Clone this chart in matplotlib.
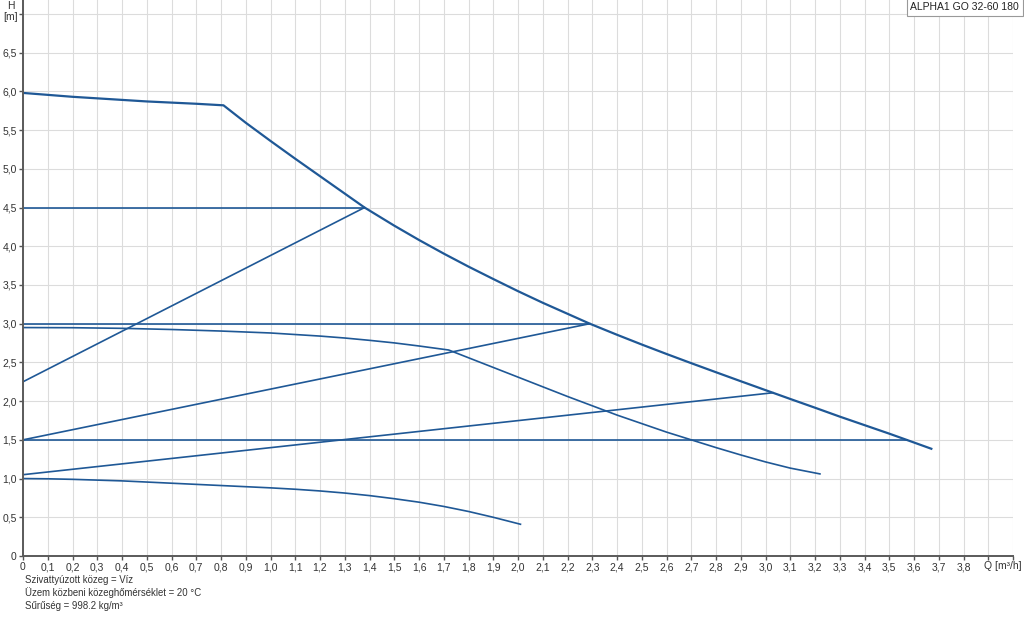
import numpy as np
import matplotlib
matplotlib.use("Agg")
from matplotlib import pyplot as plt

plt.rcParams['font.family'] = ['Liberation Sans', 'DejaVu Sans']

LINE_COLOR = '#1f5896'

# max speed curve (kink at 0.81)
max_q = [0, 0.1, 0.2, 0.3, 0.4, 0.5, 0.6, 0.7, 0.81, 0.9, 1.0, 1.1, 1.2, 1.3, 1.38,
         1.5, 1.6, 1.7, 1.8, 1.9, 2.0, 2.1, 2.2, 2.29, 2.4, 2.5, 2.6, 2.7, 2.8, 2.9,
         3.0, 3.03, 3.1, 3.2, 3.3, 3.4, 3.5, 3.57, 3.67]
max_h = [5.98, 5.955, 5.93, 5.91, 5.89, 5.87, 5.855, 5.84, 5.82, 5.595, 5.36, 5.13, 4.905, 4.68, 4.50,
         4.266, 4.081, 3.905, 3.737, 3.577, 3.42, 3.27, 3.128, 3.00, 2.857, 2.731, 2.609, 2.49, 2.373, 2.257,
         2.142, 2.108, 2.028, 1.915, 1.80, 1.69, 1.58, 1.50, 1.385]

# constant pressure lines
cp_q = [[0, 1.38], [0, 2.29], [0, 3.57]]
cp_h = [[4.5, 4.5], [3.0, 3.0], [1.5, 1.5]]

# proportional pressure lines
pp_q = [[0, 1.38], [0, 2.29], [0, 3.03]]
pp_h = [[2.25, 4.5], [1.5, 3.0], [1.05, 2.108]]

# middle fixed speed curve
mid_q = [0, 0.2, 0.4, 0.6, 0.8, 1.0, 1.1, 1.2, 1.3, 1.4, 1.5, 1.6, 1.72,
         1.8, 1.9, 2.0, 2.1, 2.2, 2.3, 2.4, 2.5, 2.6, 2.7, 2.8, 2.9, 3.0, 3.1, 3.22]
mid_h = [2.95, 2.948, 2.94, 2.925, 2.905, 2.88, 2.86, 2.84, 2.815, 2.785, 2.752, 2.712, 2.66,
         2.56, 2.435, 2.31, 2.185, 2.06, 1.94, 1.82, 1.71, 1.60, 1.50, 1.40, 1.305, 1.215, 1.135, 1.06]

# low fixed speed curve
low_q = [0, 0.1, 0.2, 0.3, 0.4, 0.5, 0.6, 0.7, 0.8, 0.9, 1.0,
         1.1, 1.2, 1.3, 1.4, 1.5, 1.6, 1.7, 1.8, 1.9, 2.01]
low_h = [1.0, 0.997, 0.99, 0.98, 0.97, 0.955, 0.94, 0.925, 0.91, 0.895, 0.88,
         0.862, 0.84, 0.813, 0.78, 0.74, 0.695, 0.64, 0.575, 0.50, 0.41]

x_ticks = np.round(np.arange(0, 4.01, 0.1), 1)
y_ticks = np.round(np.arange(0, 7.01, 0.5), 1)

info_lines = ["Szivattyúzott közeg = Víz",
              "Üzem közbeni közeghőmérséklet = 20 °C",
              "Sűrűség = 998.2 kg/m³"]

fig = plt.figure(figsize=(10.24, 6.17), dpi=100)
ax = fig.add_axes([23 / 1024, 61 / 617, (1013 - 23) / 1024, 556 / 617])

ax.set_xlim(0, 4.0)
ax.set_ylim(0, 7.18)

ax.set_xticks(x_ticks)
xlabels = [('0' if v == 0 else f"{v:.1f}".replace('.', ',')) for v in x_ticks]
xlabels[-1] = ''
xlabels[-2] = ''
ax.set_xticklabels(xlabels)
ax.set_yticks(y_ticks)
ylabels = [('0' if v == 0 else f"{v:.1f}".replace('.', ',')) for v in y_ticks]
ylabels[-1] = ''
ax.set_yticklabels(ylabels)

ax.tick_params(axis='both', labelsize=7.5, colors='#333333', length=3, width=1, pad=1.5)
ax.tick_params(axis='x', color='#555555')
ax.tick_params(axis='y', color='#555555')

ax.grid(True, color='#dcdcdc', linewidth=0.8)
ax.set_axisbelow(True)
for s in ['top', 'right']:
    ax.spines[s].set_visible(False)
for s in ['left', 'bottom']:
    ax.spines[s].set_color('#5a5a5a')
    ax.spines[s].set_linewidth(1.4)

for q, h in zip(cp_q, cp_h):
    ax.plot(q, h, color=LINE_COLOR, lw=1.2)
for q, h in zip(pp_q, pp_h):
    ax.plot(q, h, color=LINE_COLOR, lw=1.2)
ax.plot(mid_q, mid_h, color=LINE_COLOR, lw=1.2, solid_joinstyle='round')
ax.plot(low_q, low_h, color=LINE_COLOR, lw=1.2, solid_joinstyle='round')
ax.plot(max_q, max_h, color=LINE_COLOR, lw=1.6, solid_joinstyle='round')

fig.text(11 / 1024, 1 - 6 / 617, 'H', ha='center', va='center', fontsize=7.5, color='#333333')
fig.text(11 / 1024, 1 - 17 / 617, '[m]', ha='center', va='center', fontsize=7.5, color='#333333')
ax.text(3.96, -0.06, 'Q [m³/h]', ha='center', va='top', fontsize=7.5, color='#333333', clip_on=False)

fig.text(1019 / 1024, 1 - 2 / 617, 'ALPHA1 GO 32-60 180', ha='right', va='top', fontsize=7.5,
         color='#222222',
         bbox=dict(boxstyle='square,pad=0.35', facecolor='white', edgecolor='#999999', linewidth=0.8))

for i, line in enumerate(info_lines):
    fig.text(25 / 1024, 1 - (580 + 13 * i) / 617, line, ha='left', va='center', fontsize=6.9, color='#333333')

fig.savefig('out.png', dpi=100)
